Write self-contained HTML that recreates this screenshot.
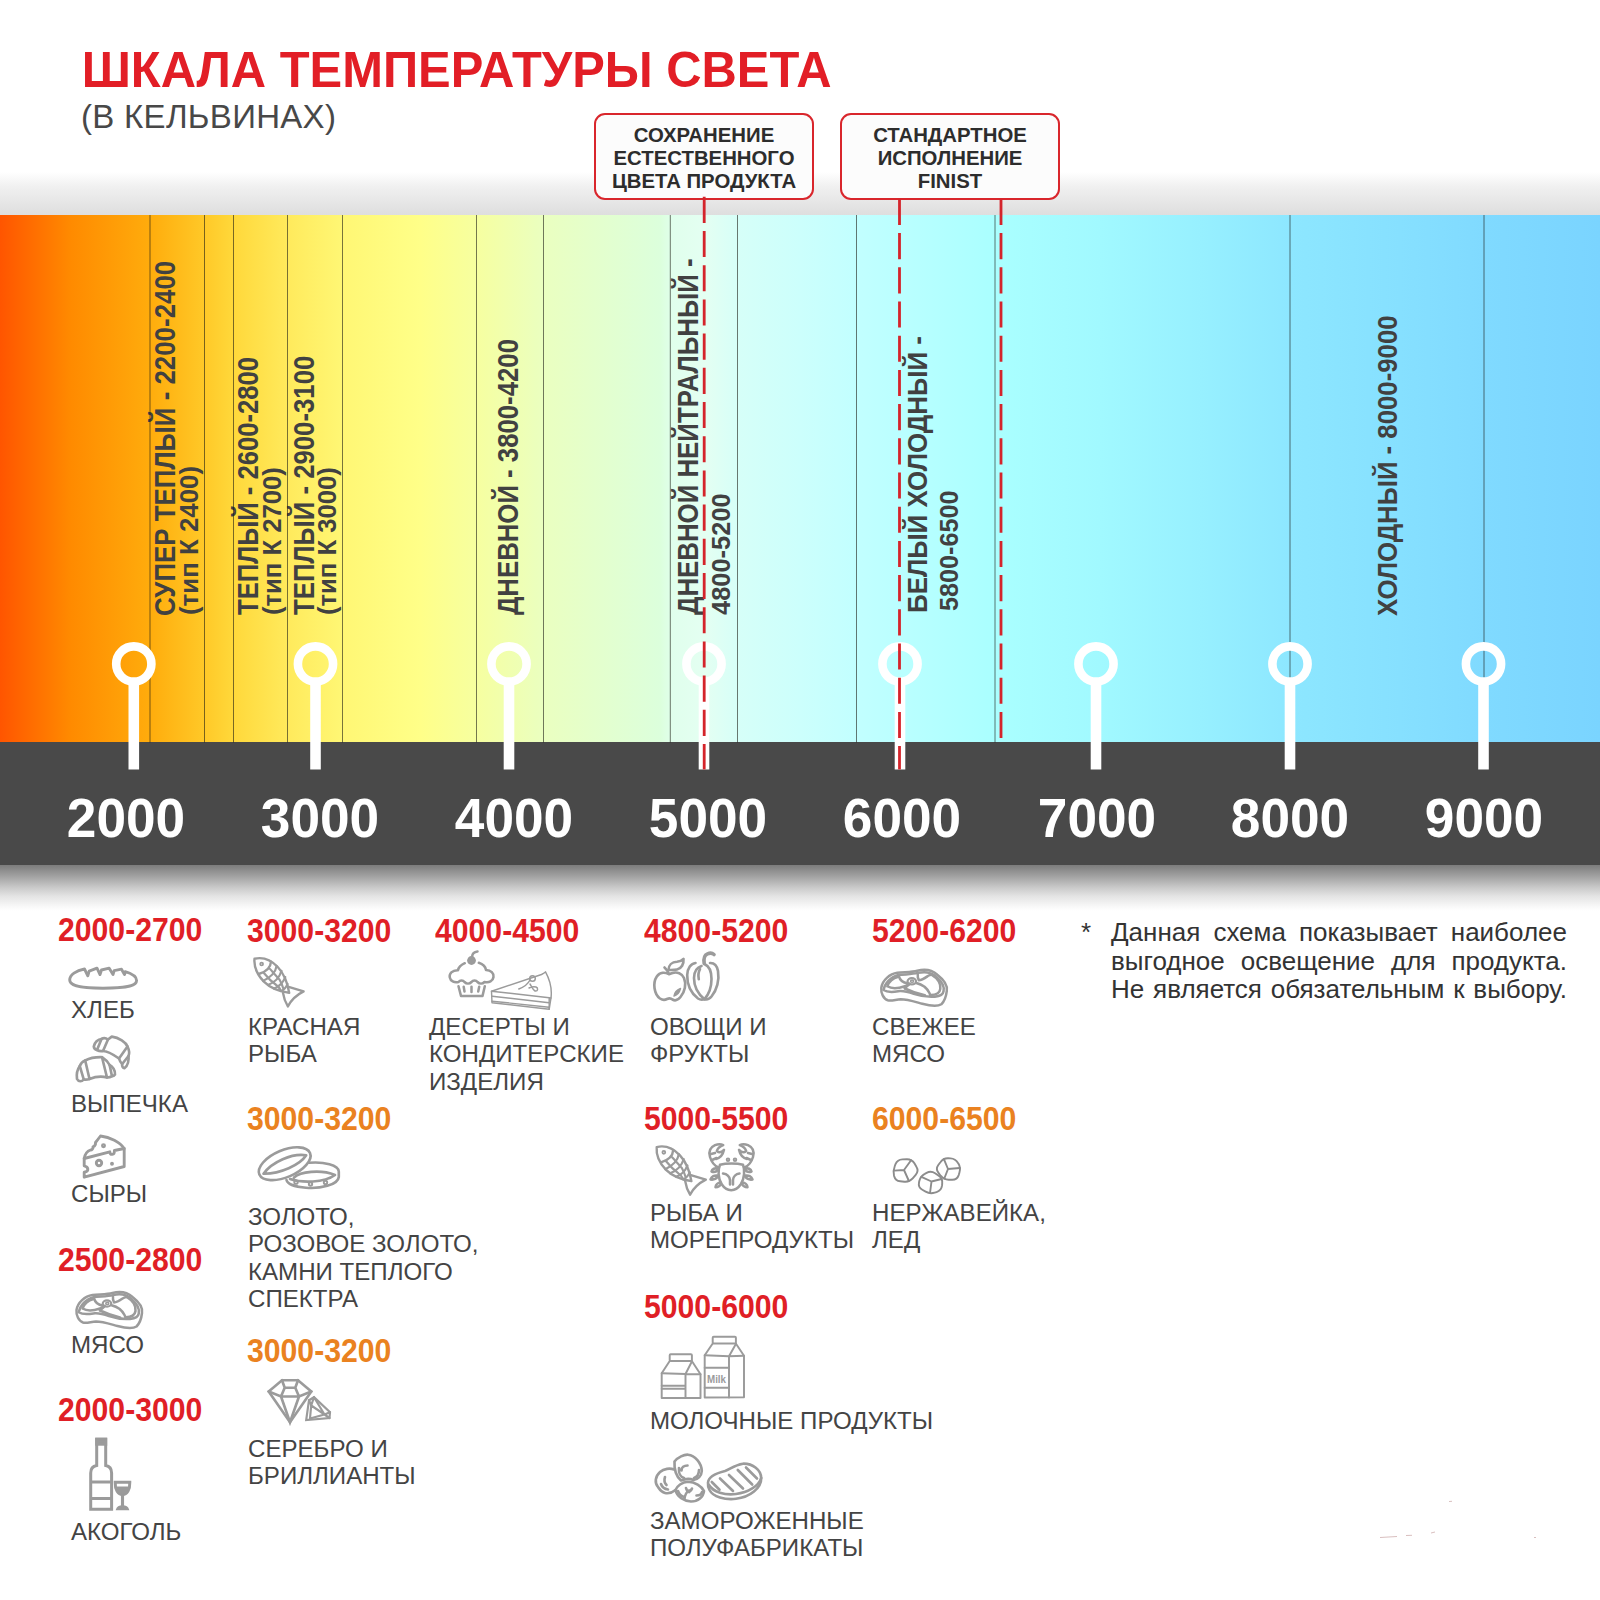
<!DOCTYPE html>
<html lang="ru">
<head>
<meta charset="utf-8">
<title>Шкала температуры света</title>
<style>
html,body{margin:0;padding:0;background:#fff;}
body{width:1600px;height:1600px;position:relative;overflow:hidden;font-family:"Liberation Sans",Arial,sans-serif;color:#444;}
.abs{position:absolute;white-space:nowrap;}
#title{left:81.7px;top:42.6px;font-size:48.9px;line-height:55px;font-weight:700;color:#e21e26;transform:scaleY(1.03);transform-origin:0 44px;}
#sub{left:81px;top:98.2px;font-size:33px;line-height:37px;color:#484848;letter-spacing:.3px;}
#topshade{left:0;top:172px;width:1600px;height:43px;background:linear-gradient(to bottom,#ffffff 0%,#f0f0f0 35%,#dedede 100%);}
#grad{left:0;top:215px;width:1600px;height:528px;
background:linear-gradient(to right,#ff5500 0px,#ff8a00 70px,#ffac0c 150px,#ffc928 205px,#ffd83a 233px,#ffea5c 288px,#fff774 342px,#ffff88 420px,#f6ffa0 477px,#eaffc0 544px,#dcffdc 660px,#e0ffec 672px,#e4fff2 705px,#d6fff8 738px,#ccfffc 800px,#c2ffff 856px,#aaffff 994px,#a1f9ff 1100px,#97f0ff 1200px,#8de7ff 1290px,#86e0ff 1400px,#80daff 1484px,#7ad4ff 1600px);}
#bar{left:0;top:742px;width:1600px;height:123px;background:#494949;}
#botshade{left:0;top:865px;width:1600px;height:46px;background:linear-gradient(to bottom,#7c7c7c 0%,#a4a4a4 26%,#c8c8c8 48%,#e4e4e4 68%,#f8f8f8 90%,#ffffff 100%);}
.num{top:788.6px;font-size:53.2px;line-height:60px;font-weight:700;color:#fff;width:200px;text-align:center;transform:scaleY(1.04);transform-origin:50% 49px;}
.box{top:113px;height:82.6px;border:2.5px solid #d9262c;border-radius:11px;background:#fcfcfc;box-sizing:content-box;}
.boxt{font-size:20.35px;line-height:23.3px;font-weight:700;color:#2d2d2d;text-align:center;top:123.6px;}
.v{transform-origin:0 0;font-weight:700;color:#414141;line-height:1;}
.h{font-size:30.2px;line-height:34px;font-weight:700;color:#e01f26;transform:scaleY(1.115);transform-origin:0 27.2px;}
.o{color:#ea8220;}
.l{font-size:24.1px;line-height:27.3px;color:#444;}
#note{left:1111px;top:918px;width:456px;font-size:26px;line-height:28.7px;color:#333;white-space:normal;text-align:justify;text-align-last:justify;}
#star{left:1081px;top:918px;font-size:26px;line-height:28.7px;color:#333;}
svg#ov{position:absolute;left:0;top:0;width:1600px;height:1600px;}
</style>
</head>
<body>
<div class="abs" id="title">ШКАЛА ТЕМПЕРАТУРЫ СВЕТА</div>
<div class="abs" id="sub">(В КЕЛЬВИНАХ)</div>
<div class="abs" id="topshade"></div>
<div class="abs" id="grad"></div>
<div class="abs" id="bar"></div>
<div class="abs" id="botshade"></div>
<div class="abs box" style="left:594px;width:215.7px;"></div>
<div class="abs box" style="left:840px;width:215.7px;"></div>
<div class="abs boxt" style="left:594px;width:220px;">СОХРАНЕНИЕ<br>ЕСТЕСТВЕННОГО<br>ЦВЕТА ПРОДУКТА</div>
<div class="abs boxt" style="left:840px;width:220px;">СТАНДАРТНОЕ<br>ИСПОЛНЕНИЕ<br>FINIST</div>

<!--VL0-->
<div class="abs v" style="left:150.35px;top:615.86px;font-size:30px;transform:rotate(-90deg) scaleX(0.8624);">СУПЕР ТЕПЛЫЙ - 2200-2400</div>
<div class="abs v" style="left:177.25px;top:614.77px;font-size:25.4px;transform:rotate(-90deg) scaleX(1.0178);">(тип К 2400)</div>
<div class="abs v" style="left:233.35px;top:615.00px;font-size:30px;transform:rotate(-90deg) scaleX(0.8546);">ТЕПЛЫЙ - 2600-2800</div>
<div class="abs v" style="left:259.75px;top:614.76px;font-size:25.4px;transform:rotate(-90deg) scaleX(1.0095);">(тип К 2700)</div>
<div class="abs v" style="left:288.86px;top:615.00px;font-size:30px;transform:rotate(-90deg) scaleX(0.8587);">ТЕПЛЫЙ - 2900-3100</div>
<div class="abs v" style="left:314.75px;top:614.76px;font-size:25.4px;transform:rotate(-90deg) scaleX(1.0095);">(тип К 3000)</div>
<div class="abs v" style="left:494.20px;top:615.00px;font-size:29px;transform:rotate(-90deg) scaleX(0.8884);">ДНЕВНОЙ - 3800-4200</div>
<div class="abs v" style="left:674.20px;top:615.00px;font-size:29px;transform:rotate(-90deg) scaleX(0.8908);">ДНЕВНОЙ НЕЙТРАЛЬНЫЙ -</div>
<div class="abs v" style="left:707.57px;top:615.00px;font-size:26.5px;transform:rotate(-90deg) scaleX(0.9604);">4800-5200</div>
<div class="abs v" style="left:904.94px;top:613.36px;font-size:27px;transform:rotate(-90deg) scaleX(0.9615);">БЕЛЫЙ ХОЛОДНЫЙ -</div>
<div class="abs v" style="left:936.42px;top:611.30px;font-size:26.2px;transform:rotate(-90deg) scaleX(0.9625);">5800-6500</div>
<div class="abs v" style="left:1375.34px;top:615.50px;font-size:27px;transform:rotate(-90deg) scaleX(0.9544);">ХОЛОДНЫЙ - 8000-9000</div>
<!--VL1-->

<div class="abs num" style="left:26px;">2000</div>
<div class="abs num" style="left:220px;">3000</div>
<div class="abs num" style="left:414px;">4000</div>
<div class="abs num" style="left:608px;">5000</div>
<div class="abs num" style="left:802px;">6000</div>
<div class="abs num" style="left:997px;">7000</div>
<div class="abs num" style="left:1190px;">8000</div>
<div class="abs num" style="left:1384px;">9000</div>

<svg id="ov" viewBox="0 0 1600 1600">
<g id="vlines" stroke="#1c1c14" stroke-opacity=".6" stroke-width="1">
<line x1="150" y1="215" x2="150" y2="742.5"/>
<line x1="204.5" y1="215" x2="204.5" y2="742.5"/>
<line x1="233.5" y1="215" x2="233.5" y2="742.5"/>
<line x1="287.5" y1="215" x2="287.5" y2="742.5"/>
<line x1="342.5" y1="215" x2="342.5" y2="742.5"/>
<line x1="476.5" y1="215" x2="476.5" y2="742.5"/>
<line x1="543.5" y1="215" x2="543.5" y2="742.5"/>
<line x1="670.3" y1="215" x2="670.3" y2="742.5"/>
<line x1="737.5" y1="215" x2="737.5" y2="742.5"/>
<line x1="856.5" y1="215" x2="856.5" y2="742.5"/>
<line x1="995" y1="215" x2="995" y2="742.5"/>
<line x1="1290" y1="215" x2="1290" y2="742.5"/>
<line x1="1484" y1="215" x2="1484" y2="742.5"/>
</g>
<g id="pins" fill="none" stroke="#fff">
<circle cx="133.8" cy="664" r="17.6" stroke-width="8.6"/><line x1="133.8" y1="684" x2="133.8" y2="769.4" stroke-width="10.6"/>
<circle cx="315.5" cy="664" r="17.6" stroke-width="8.6"/><line x1="315.5" y1="684" x2="315.5" y2="769.4" stroke-width="10.6"/>
<circle cx="509" cy="664" r="17.6" stroke-width="8.6"/><line x1="509" y1="684" x2="509" y2="769.4" stroke-width="10.6"/>
<circle cx="704" cy="664" r="17.6" stroke-width="8.6"/><line x1="704" y1="684" x2="704" y2="769.4" stroke-width="10.6"/>
<circle cx="900" cy="664" r="17.6" stroke-width="8.6"/><line x1="900" y1="684" x2="900" y2="769.4" stroke-width="10.6"/>
<circle cx="1096" cy="664" r="17.6" stroke-width="8.6"/><line x1="1096" y1="684" x2="1096" y2="769.4" stroke-width="10.6"/>
<circle cx="1290" cy="664" r="17.6" stroke-width="8.6"/><line x1="1290" y1="684" x2="1290" y2="769.4" stroke-width="10.6"/>
<circle cx="1483.5" cy="664" r="17.6" stroke-width="8.6"/><line x1="1483.5" y1="684" x2="1483.5" y2="769.4" stroke-width="10.6"/>
</g>
<g id="dash" stroke="#d4242b" stroke-width="2.8" stroke-dasharray="26.1 8.1">
<line x1="704.2" y1="196.8" x2="704.2" y2="769.4"/>
<line x1="899.5" y1="198.9" x2="899.5" y2="769.4"/>
<line x1="1001" y1="198.9" x2="1001" y2="742.5"/>
</g>
<g id="icons" fill="none" stroke="#9b9b9b" stroke-width="28.8" stroke-linecap="round" stroke-linejoin="round">
<!-- bread -->
<g transform="translate(50,950) scale(.1)">
<path d="M197,300 C197,248 262,205 345,190 L378,258 L392,212 L470,182 L500,246 L515,200 L592,182 L630,246 L642,206 L715,192 L745,246 L752,216 C820,236 866,268 866,305 C866,352 800,380 530,382 C262,380 197,350 197,300 Z"/>
</g>
<!-- croissants -->
<g transform="translate(50,950) scale(.1)" stroke-width="26.4">
<path d="M580,895 L618,866 C690,875 760,925 775,965 L690,1085 C640,1050 570,1010 530,1010 Z"/>
<path d="M580,895 C560,880 535,878 515,890 L470,1000 C490,1012 510,1014 530,1010"/>
<path d="M515,890 C480,890 445,925 438,965 C440,985 455,997 470,1000"/>
<path d="M775,965 C790,995 795,1035 785,1060 L722,1140 C708,1125 695,1105 690,1085"/>
<path d="M785,1060 C790,1100 780,1160 745,1182 C728,1180 718,1160 722,1140"/>
<path d="M352,1105 C400,1080 455,1070 520,1072 L570,1275 C520,1262 450,1268 395,1290 Z"/>
<path d="M352,1105 C325,1115 305,1140 298,1160 L338,1295 C355,1298 378,1296 395,1290"/>
<path d="M298,1160 C280,1185 262,1235 270,1290 C285,1320 318,1318 338,1295"/>
<path d="M520,1072 C548,1090 580,1120 596,1150 L620,1262 C604,1272 588,1276 570,1275"/>
<path d="M596,1150 C625,1165 655,1205 650,1245 C642,1258 632,1262 620,1262"/>
</g>
<!-- cheese -->
<g transform="translate(50,1120) scale(.1)" stroke-width="28.8">
<path d="M505,160 C600,170 700,220 742,285 L742,465 L342,572 L342,522 C365,518 380,505 378,490 C376,472 360,462 342,458 L342,385 C350,340 375,310 405,300 C420,300 432,285 430,268 C445,262 458,245 455,225 C475,200 490,180 505,160 Z"/>
<path d="M342,385 L598,318 C600,335 610,345 622,344 C640,342 646,325 644,305 L742,285"/>
<circle cx="535" cy="258" r="14" stroke-width="21.6"/>
<circle cx="490" cy="430" r="27"/>
<circle cx="620" cy="437" r="10" stroke-width="19.2"/>
</g>
<!-- meat 1 -->
<g id="meat" transform="translate(70,1285) scale(.05)" stroke-width="50">
<path d="M130,500 C150,350 300,220 450,200 C600,185 750,190 850,160 C1000,120 1150,150 1250,240 C1380,340 1460,450 1440,560 C1430,650 1400,760 1330,830 C1250,880 1100,860 950,820 C800,780 650,730 520,730 C420,735 330,770 260,750 C170,720 120,600 130,500 Z"/>
<path d="M175,545 C200,410 320,280 470,245 C600,228 750,232 860,202 C990,172 1130,192 1220,272 C1330,362 1395,470 1375,570 C1365,640 1300,668 1200,678 C1050,690 900,660 780,620 C680,585 600,560 500,565 C400,580 270,610 175,545 Z"/>
<path d="M250,470 C280,385 360,310 470,280 M250,470 C330,520 480,512 600,470 C640,455 670,440 690,420"/>
<path d="M480,268 C500,340 560,400 655,408"/>
<ellipse cx="740" cy="370" rx="85" ry="62" stroke-width="44"/>
<ellipse cx="745" cy="368" rx="30" ry="22" stroke-width="30"/>
<path d="M880,345 C860,310 855,270 860,235 M880,350 C950,345 1010,300 1060,265 C1085,250 1110,242 1135,240"/>
<path d="M1135,240 C1250,310 1320,420 1310,520 C1300,600 1230,640 1120,645"/>
<path d="M830,405 C930,430 1040,500 1090,600 C1100,620 1105,640 1110,655"/>
<path d="M690,425 C655,450 625,480 600,512 C700,560 850,620 1000,650" stroke-width="56"/>
</g>
<use href="#meat" x="804.8" y="-322.2"/>
<!-- bottle and glass -->
<g transform="translate(50,1420) scale(.1)" stroke-width="30" stroke-linejoin="miter" stroke-linecap="butt">
<path d="M467,192 H557 V455 C600,462 616,490 616,530 V893 H407 V530 C407,490 424,462 467,455 Z"/>
<rect x="467" y="192" width="90" height="50" fill="#9b9b9b"/>
<path d="M407,620 H616 M407,785 H616"/>
<path d="M652,622 H798 C800,700 770,745 725,748 C680,745 650,700 652,622 Z"/>
<path d="M660,670 H790 C785,715 760,742 725,745 C690,742 665,715 660,670 Z" fill="#9b9b9b" stroke-width="12"/>
<path d="M725,748 V870" stroke-width="31.2"/>
<path d="M668,895 C675,870 700,862 725,862 C750,862 775,870 782,895 Z" fill="#9b9b9b" stroke-width="16.8"/>
</g>
<!-- fish -->
<g id="fish" transform="translate(250,955) scale(.0375)" stroke-width="64">
<path d="M120,100 C330,50 560,130 740,320 C900,490 1000,740 1045,1010 C800,975 540,880 370,710 C190,520 100,300 120,100 Z"/>
<path d="M1030,850 L1430,970 C1250,1060 1100,1200 1010,1370 C940,1260 900,1140 880,1010"/>
<path d="M560,180 C550,330 440,440 250,500"/>
<circle cx="310" cy="240" r="38" stroke-width="48"/>
<g stroke-width="58">
<path d="M710,290 C690,420 580,580 350,690 M840,420 C800,560 690,720 480,800 M940,590 C900,700 800,830 640,895 M1000,770 C970,850 920,920 830,960"/>
<path d="M530,370 C620,470 730,590 790,660 C830,730 860,800 890,900 M370,480 C450,580 560,700 700,800 C760,840 800,900 830,960"/>
</g>
</g>
<use href="#fish" x="402.2" y="188.3"/>
<!-- rings -->
<g transform="translate(230,1100) scale(.1)" stroke-width="26.4">
<ellipse cx="547" cy="637" rx="275" ry="135" transform="rotate(-23 547 637)"/>
<path d="M335,737 C420,620 620,530 762,553 C700,650 500,740 335,737 Z"/>
<path d="M790,628 C940,615 1085,650 1088,715 L1088,770 C1080,850 900,890 760,878 C650,870 575,840 565,800"/>
<path d="M640,775 C700,720 900,690 1050,750 C940,830 720,830 600,790" />
<circle cx="660" cy="822" r="17" stroke-width="19.2"/><circle cx="805" cy="840" r="17" stroke-width="19.2"/><circle cx="955" cy="825" r="17" stroke-width="19.2"/>
</g>
<!-- diamonds -->
<g transform="translate(230,1340) scale(.1)" stroke-width="26.4" stroke-linejoin="miter">
<path d="M387,515 L520,402 L680,402 L813,515 L600,822 Z"/>
<path d="M520,402 L547,478 L653,478 L680,402 M547,478 L510,565 M653,478 L690,565 M387,515 L510,565 L690,565 L813,515 M510,565 L600,822 L690,565"/>
<g stroke-width="21.6">
<path d="M762,800 L790,602 L840,572 L1000,722 L995,780 Z"/>
<path d="M790,602 L812,655 L800,785 M840,572 L812,655 L945,745 L1000,722 M945,745 L995,780 M945,745 L800,785 M840,572 L945,745"/>
</g>
</g>
<!-- cupcake + cake -->
<g transform="translate(420,940) scale(.1)" stroke-width="25.2">
<circle cx="515" cy="205" r="44" fill="#9b9b9b" stroke="none"/>
<path d="M520,170 C522,140 545,118 575,115"/>
<path d="M448,232 C410,250 385,275 380,302 C320,300 290,340 298,375 C305,410 340,430 385,420 C400,400 430,400 445,420 C465,440 495,440 515,420 C530,400 560,400 575,420 C595,440 625,440 645,420 C690,432 730,410 735,370 C740,335 710,300 660,300 C655,265 625,240 588,228"/>
<path d="M385,462 L410,560 L625,560 L648,462"/>
<path d="M437,468 L445,515 M515,468 L515,520 M592,468 L582,515"/>
<g stroke-width="14.4">
<path d="M715,512 L1215,345 C1235,335 1250,325 1255,318 C1300,400 1320,500 1310,580 L1292,692 L720,628 Z"/>
<path d="M715,512 L1292,578 L1310,580 M722,562 L1290,628 M720,612 L1290,672 M1292,578 L1292,692"/>
<circle cx="1125" cy="385" r="28"/>
<path d="M1100,400 C1080,440 1040,470 988,490 M1100,440 C1120,470 1130,500 1150,510 C1180,515 1185,480 1160,470 C1140,465 1110,470 1090,480"/>
</g>
</g>
<!-- apple + pepper -->
<g transform="translate(630,930) scale(.1)" stroke-width="26.4">
<path d="M390,442 C350,420 300,420 268,465 C225,530 240,640 300,685 C325,702 350,702 370,690 C390,680 410,682 425,695 C450,710 480,700 505,670 C550,615 565,540 540,480 C520,435 470,415 425,430 C410,435 400,440 390,442 Z"/>
<path d="M388,438 C380,415 365,392 345,375"/>
<path d="M385,400 C385,350 420,320 470,318 C500,316 520,305 535,290 C540,340 515,385 470,395 C440,402 410,400 385,400 Z"/>
<path d="M505,585 C495,625 470,650 440,660 C445,625 470,600 505,585 Z" fill="#9b9b9b" stroke-width="14.4"/>
<path d="M742,335 C735,290 745,250 775,238 C800,228 825,232 840,245" stroke-width="36" stroke-linecap="round"/>
<path d="M655,330 C610,335 575,380 572,450 C570,540 610,630 680,685 C700,698 725,698 745,692 C770,698 795,690 815,665 C870,600 895,500 880,410 C870,355 840,328 800,330"/>
<path d="M715,360 C670,375 640,420 640,480 C640,560 680,640 745,692 M745,340 C790,360 815,420 815,490 C815,570 790,640 745,692"/>
<path d="M700,392 C685,420 680,455 688,492"/>
</g>
<!-- crab -->
<g transform="translate(630,1110) scale(.1)" stroke-width="25.2">
<path d="M900,548 C960,530 1070,530 1130,548 C1150,600 1145,680 1110,740 C1080,785 1045,802 1012,802 C980,802 945,785 915,740 C880,680 878,600 900,548 Z"/>
<circle cx="980" cy="497" r="13" stroke-width="19.2"/><circle cx="1050" cy="497" r="13" stroke-width="19.2"/>
<path d="M930,635 C965,640 995,665 1000,700 L1000,745 M1095,635 C1060,640 1032,665 1030,700 L1030,745"/>
<path d="M885,575 C850,560 815,520 800,470 C785,420 800,375 850,352 C880,340 910,340 932,352 C900,365 875,385 868,410 C890,430 915,425 940,398 C930,445 900,480 860,490"/>
<path d="M1145,575 C1180,560 1215,520 1230,470 C1245,420 1230,375 1180,352 C1150,340 1120,340 1098,352 C1130,365 1155,385 1162,410 C1140,430 1115,425 1090,398 C1100,445 1130,480 1170,490"/>
<path d="M820,500 L865,480 M810,440 L850,430 M1210,500 L1165,480 M1220,440 L1180,430"/>
<path d="M880,590 C850,575 820,590 815,615 C840,625 865,615 880,600 M875,655 C845,650 815,665 805,695 C835,700 862,688 878,668 M905,725 C880,725 858,745 855,772 C885,772 905,752 912,735"/>
<path d="M1150,590 C1180,575 1210,590 1215,615 C1190,625 1165,615 1150,600 M1155,655 C1185,650 1215,665 1225,695 C1195,700 1168,688 1152,668 M1125,725 C1150,725 1172,745 1175,772 C1145,772 1125,752 1118,735"/>
</g>
<!-- milk -->
<g transform="translate(630,1310) scale(.1)" stroke-width="19.5">
<rect x="397" y="442" width="222" height="68" rx="10"/>
<path d="M397,510 L317,632 L317,880 L705,880 L705,642 L620,512"/>
<path d="M317,632 L555,640 L620,512 M555,640 L705,642 M555,640 L555,880 M317,757 H555 M317,787 H555"/>
<rect x="827" y="267" width="232" height="68" rx="10"/>
<path d="M827,335 L747,452 L747,875 L1140,872 L1140,457 L1060,337"/>
<path d="M747,452 L990,462 L1060,337 M990,462 L1140,457 M990,462 L990,875 M747,577 H990 M747,777 H990"/>
</g>
<text x="716.5" y="1382.5" font-family="Liberation Sans, sans-serif" font-weight="700" font-size="10.5" fill="#9b9b9b" stroke="none" text-anchor="middle" textLength="19" lengthAdjust="spacingAndGlyphs">Milk</text>
<!-- frozen -->
<g transform="translate(630,1430) scale(.1)" stroke-width="26.4">
<path d="M445,315 C480,270 540,245 580,247 C650,255 715,330 718,410 C715,460 680,495 635,500 C590,480 545,490 510,505 C470,470 440,400 445,315 Z"/>
<path d="M440,395 C400,380 340,385 300,420 C250,465 245,530 280,570 C300,600 310,620 350,630 C390,640 430,620 455,600"/>
<path d="M455,600 C470,560 520,520 580,518 C650,520 715,560 740,610 C735,670 680,715 610,715 C540,712 470,670 455,600 Z"/>
<path d="M575,355 C540,355 515,375 515,405 M490,380 C485,430 505,470 540,480 M690,400 C690,440 670,470 640,480"/>
<path d="M350,470 C340,500 345,530 365,550 M310,540 C320,570 345,590 380,595"/>
<path d="M545,690 C548,650 560,625 590,605 M560,580 C565,600 575,615 590,620 M620,585 C615,600 605,612 590,620 M480,610 C490,640 510,660 535,668 M720,620 C715,640 695,655 665,655"/>
<path d="M780,525 C785,470 850,435 950,410 C1000,395 1040,350 1130,337 C1230,335 1310,400 1312,480 C1315,580 1200,670 1060,688 C950,700 830,670 795,600 C782,575 778,550 780,525 Z"/>
<path d="M790,550 C830,620 950,655 1060,640 C1180,625 1290,560 1312,480"/>
<path d="M818,520 L895,598 M900,485 L1030,610 M990,450 L1130,585 M1078,400 L1222,545 M1160,375 L1270,485"/>
</g>
<!-- ice -->
<g transform="translate(860,1110) scale(.1)" stroke-width="19" stroke="#8c8c8c">
<path d="M544,533 Q518,491 468,492 L424,494 Q374,496 355,542 L348,560 Q329,606 340,655 L341,660 Q353,709 402,713 L444,717 Q494,722 527,684 L557,648 Q590,610 564,568 Z"/>
<path d="M440,600 L511,502 M440,600 L340,606 M440,600 L489,710"/>
<path d="M593,710 Q604,661 648,638 L666,628 Q710,605 751,633 L787,658 Q828,686 822,736 L820,757 Q814,806 766,821 L747,827 Q699,841 656,817 L623,798 Q580,774 590,725 Z"/>
<path d="M715,715 L614,668 M715,715 L816,690 M715,715 L700,830"/>
<path d="M804,522 Q833,481 883,483 L905,484 Q955,487 980,530 L984,536 Q1010,579 994,627 L987,651 Q971,699 921,698 L887,697 Q837,696 806,657 L785,629 Q753,590 783,550 Z"/>
<path d="M880,590 L839,492 M880,590 L998,580 M880,590 L843,685"/>
</g>
</g>
<g id="specks" stroke="#b98a8a" stroke-width="1" stroke-opacity=".55" fill="none"><path d="M1380,1537.5 L1397,1536.5 M1406,1535.5 L1412,1535.3 M1431,1533 L1435,1532 M1534,1537.5 L1536,1537.5 M1449,1501.5 L1452,1501.3"/></g>

</svg>

<div class="abs h" style="left:58px;top:913.6px;">2000-2700</div>
<div class="abs h" style="left:58px;top:1243.6px;">2500-2800</div>
<div class="abs h" style="left:58px;top:1393.6px;">2000-3000</div>
<div class="abs h" style="left:247px;top:914.6px;">3000-3200</div>
<div class="abs h o" style="left:247px;top:1102.6px;">3000-3200</div>
<div class="abs h o" style="left:247px;top:1334.6px;">3000-3200</div>
<div class="abs h" style="left:435px;top:914.6px;">4000-4500</div>
<div class="abs h" style="left:644px;top:914.6px;">4800-5200</div>
<div class="abs h" style="left:644px;top:1102.6px;">5000-5500</div>
<div class="abs h" style="left:644px;top:1290.6px;">5000-6000</div>
<div class="abs h" style="left:872px;top:914.6px;">5200-6200</div>
<div class="abs h o" style="left:872px;top:1102.6px;">6000-6500</div>
<div class="abs l" style="left:71px;top:996.0px;">ХЛЕБ</div>
<div class="abs l" style="left:71px;top:1090.0px;">ВЫПЕЧКА</div>
<div class="abs l" style="left:71px;top:1180.0px;">СЫРЫ</div>
<div class="abs l" style="left:71px;top:1331.0px;">МЯСО</div>
<div class="abs l" style="left:71px;top:1518.0px;">АКОГОЛЬ</div>
<div class="abs l" style="left:248px;top:1013.0px;">КРАСНАЯ<br>РЫБА</div>
<div class="abs l" style="left:248px;top:1203.0px;">ЗОЛОТО,<br>РОЗОВОЕ ЗОЛОТО,<br>КАМНИ ТЕПЛОГО<br>СПЕКТРА</div>
<div class="abs l" style="left:248px;top:1435.0px;">СЕРЕБРО И<br>БРИЛЛИАНТЫ</div>
<div class="abs l" style="left:429px;top:1013.0px;">ДЕСЕРТЫ И<br>КОНДИТЕРСКИЕ<br>ИЗДЕЛИЯ</div>
<div class="abs l" style="left:650px;top:1013.0px;">ОВОЩИ И<br>ФРУКТЫ</div>
<div class="abs l" style="left:650px;top:1199.0px;">РЫБА И<br>МОРЕПРОДУКТЫ</div>
<div class="abs l" style="left:650px;top:1407.0px;">МОЛОЧНЫЕ ПРОДУКТЫ</div>
<div class="abs l" style="left:650px;top:1507.0px;">ЗАМОРОЖЕННЫЕ<br>ПОЛУФАБРИКАТЫ</div>
<div class="abs l" style="left:872px;top:1013.0px;">СВЕЖЕЕ<br>МЯСО</div>
<div class="abs l" style="left:872px;top:1199.0px;">НЕРЖАВЕЙКА,<br>ЛЕД</div>
<div class="abs" id="star">*</div>
<div class="abs" id="note">Данная схема показывает наиболее выгодное освещение для продукта. Не является обязательным к выбору.</div>

</body>
</html>
